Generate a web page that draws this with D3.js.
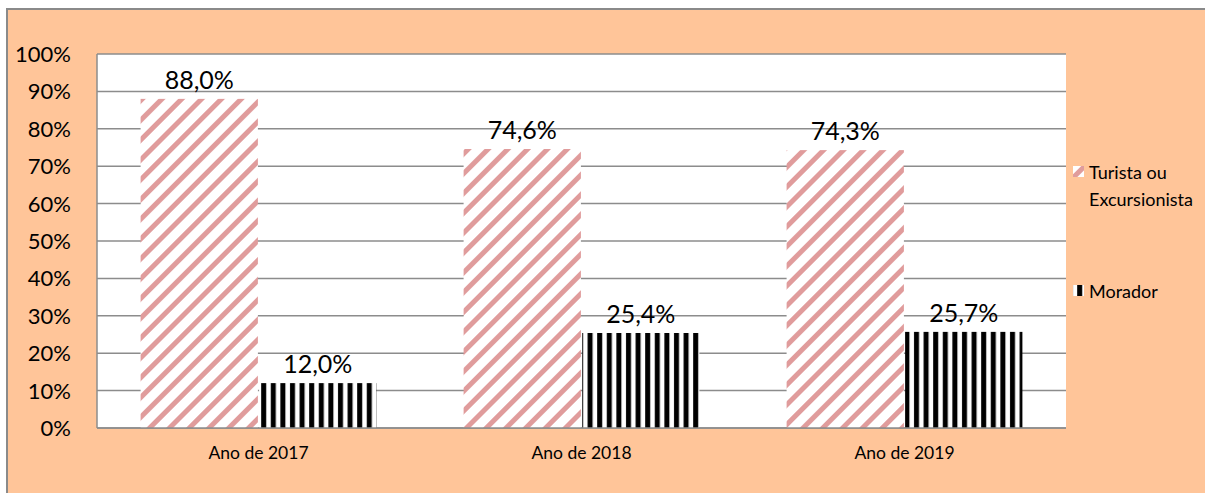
<!DOCTYPE html>
<html>
<head>
<meta charset="utf-8">
<script src="https://cdn.jsdelivr.net/npm/d3@7"></script>
<style>
  body { margin: 0; background: #fff; }
  svg { display: block; font-family: Lato, "Noto Sans", sans-serif; }
</style>
</head>
<body>
<div id="chart"></div>
<script>
const W = 1205, H = 493;

// dados
const categories = ["Ano de 2017", "Ano de 2018", "Ano de 2019"];
const seriesNames = ["Turista ou Excursionista", "Morador"];
const turista = [88.0, 74.6, 74.3];
const morador = [12.0, 25.4, 25.7];
const yTicks = [0, 10, 20, 30, 40, 50, 60, 70, 80, 90, 100];

const margin = { left: 97, right: W - 1066, top: 54, bottom: H - 428 };

const svg = d3.select('#chart').append('svg')
  .attr('width', W)
  .attr('height', H);

// padrões de preenchimento
const defs = svg.append('defs');
const diag = defs.append('pattern')
  .attr('id', 'diag')
  .attr('patternUnits', 'userSpaceOnUse')
  .attr('width', 14).attr('height', 14)
  .attr('patternTransform', 'rotate(45)');
diag.append('rect').attr('width', 14).attr('height', 14).attr('fill', '#fff');
diag.append('rect').attr('x', 0).attr('width', 5).attr('height', 14).attr('fill', '#e09c9c');

const vert = defs.append('pattern')
  .attr('id', 'vert')
  .attr('patternUnits', 'userSpaceOnUse')
  .attr('width', 9.6).attr('height', 10);
vert.append('rect').attr('width', 9.6).attr('height', 10).attr('fill', '#fff');
vert.append('rect').attr('x', 2).attr('width', 5).attr('height', 10).attr('fill', '#000');

// fundo
svg.append('rect')
  .attr('x', 7).attr('y', 9)
  .attr('width', W + 20).attr('height', H + 20)
  .attr('fill', '#ffc599')
  .attr('stroke', '#8a8a8a')
  .attr('stroke-width', 2);

const x0 = d3.scaleBand()
  .domain(categories)
  .range([margin.left, W - margin.right])
  .paddingInner(0.27)
  .paddingOuter(0.135);

const x1 = d3.scaleBand()
  .domain(seriesNames)
  .range([0, x0.bandwidth()])
  .paddingInner(0.01);

const y = d3.scaleLinear()
  .domain([0, 100])
  .range([H - margin.bottom, margin.top]);

// área do gráfico
svg.append('rect')
  .attr('x', margin.left).attr('y', margin.top)
  .attr('width', W - margin.right - margin.left)
  .attr('height', y(0) - y(100))
  .attr('fill', '#fff');

// linhas de grade
svg.append('g')
  .selectAll('line')
  .data(yTicks)
  .join('line')
  .attr('x1', margin.left)
  .attr('x2', W - margin.right)
  .attr('y1', d => y(d))
  .attr('y2', d => y(d))
  .attr('stroke', '#8c8c8c')
  .attr('stroke-width', 1.5);

svg.append('line')
  .attr('x1', margin.left).attr('x2', margin.left)
  .attr('y1', y(0)).attr('y2', y(100))
  .attr('stroke', '#8c8c8c')
  .attr('stroke-width', 1.5);

// rótulos do eixo y
svg.append('g')
  .selectAll('text')
  .data(yTicks)
  .join('text')
  .attr('x', 71)
  .attr('y', d => y(d))
  .attr('dy', '0.36em')
  .attr('text-anchor', 'end')
  .attr('font-size', 22)
  .attr('fill', '#000')
  .text(d => d + '%');

// rótulos das categorias
svg.append('g')
  .selectAll('text')
  .data(categories)
  .join('text')
  .attr('x', d => x0(d) + x0.bandwidth() / 2)
  .attr('y', 459)
  .attr('text-anchor', 'middle')
  .attr('font-size', 17.5)
  .attr('fill', '#000')
  .text(d => d);

const series = [
  { name: seriesNames[0], values: turista, fill: 'url(#diag)' },
  { name: seriesNames[1], values: morador, fill: 'url(#vert)' }
];

const fmt = v => v.toFixed(1).replace('.', ',') + '%';

series.forEach(s => {
  const g = svg.append('g');
  g.selectAll('rect')
    .data(categories)
    .join('rect')
    .attr('x', (c) => x0(c) + x1(s.name))
    .attr('y', (c, i) => y(s.values[i]))
    .attr('width', x1.bandwidth())
    .attr('height', (c, i) => y(0) - y(s.values[i]))
    .attr('fill', s.fill);
  g.selectAll('text')
    .data(categories)
    .join('text')
    .attr('x', (c) => x0(c) + x1(s.name) + x1.bandwidth() / 2)
    .attr('y', (c, i) => y(s.values[i]) - 10)
    .attr('text-anchor', 'middle')
    .attr('font-size', 25)
    .attr('fill', '#000')
    .text((c, i) => fmt(s.values[i]));
});

// redesenhar eixo inferior por cima das barras
svg.append('line')
  .attr('x1', margin.left).attr('x2', W - margin.right)
  .attr('y1', y(0)).attr('y2', y(0))
  .attr('stroke', '#8c8c8c')
  .attr('stroke-width', 1.5);

// legenda
const legend = svg.append('g').attr('font-size', 18).attr('fill', '#000');
legend.append('rect')
  .attr('x', 1073).attr('y', 166).attr('width', 11).attr('height', 11)
  .attr('fill', 'url(#diag)');
legend.append('text').attr('x', 1089).attr('y', 179).text('Turista ou');
legend.append('text').attr('x', 1089).attr('y', 206).text('Excursionista');
legend.append('rect')
  .attr('x', 1073).attr('y', 285).attr('width', 11).attr('height', 11)
  .attr('fill', 'url(#vert)');
legend.append('text').attr('x', 1089).attr('y', 298).text('Morador');
</script>
</body>
</html>
